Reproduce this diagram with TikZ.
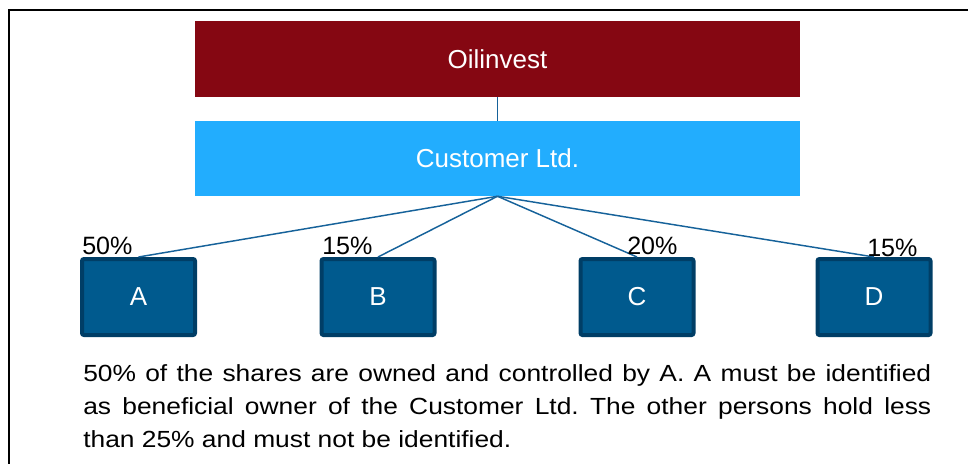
\documentclass[tikz,border=0pt]{standalone}
\usepackage{fontspec}
\setmainfont{Liberation Sans}
\newfontfamily\bodyfont[FakeStretch=1.13]{Liberation Sans}
\usetikzlibrary{backgrounds}
\definecolor{oilred}{HTML}{850712}
\definecolor{custblue}{HTML}{22ADFE}
\definecolor{leaffill}{HTML}{005A8E}
\definecolor{leafedge}{HTML}{003E66}
\definecolor{linkcol}{HTML}{16629A}
\frenchspacing
\begin{document}
\frenchspacing
\begin{tikzpicture}[x=0.75pt,y=-0.75pt,
 topbox/.style={rectangle, minimum width=453.75pt, inner sep=0pt, text=white, font=\fontsize{19.5}{23}\selectfont},
 leaf/.style={rectangle, draw=leafedge, line width=3pt, fill=leaffill, rounded corners=1.5pt, minimum width=84.75pt, minimum height=57pt, inner sep=0pt, text=white, font=\fontsize{19.5}{23}\selectfont},
 pct/.style={anchor=base west, inner sep=0pt, font=\fontsize{18.8}{22}\selectfont},
 link/.style={draw=linkcol, line width=1.1pt},
 bodyline/.style={anchor=base west, inner sep=0pt, font=\bodyfont\fontsize{17.5}{20}\selectfont\frenchspacing}]
\useasboundingbox (0,0) rectangle (968,464);
\draw[line width=1.5pt] (9,464) -- (9,10) -- (968,10);

\node[topbox, fill=oilred, minimum height=57pt] (oil) at (497.5,59) {Oilinvest};
\node[topbox, fill=custblue, minimum height=56.25pt] (cust) at (497.5,158.5) {Customer Ltd.};

\node[leaf] (A) at (138.5,297) {A};
\node[leaf] (B) at (378,297) {B};
\node[leaf] (C) at (637,297) {C};
\node[leaf] (D) at (874,297) {D};

\draw[link] (oil.south) -- (cust.north);
\foreach \n in {A,B,C,D}{\draw[link] (cust.south) -- (\n.north);}

\node[pct] (pA) at (82,254) {50\%};
\node[pct] (pB) at (322,254) {15\%};
\node[pct] (pC) at (627,254) {20\%};
\node[pct] (pD) at (867,256) {15\%};

\node[bodyline] (t1) at (83,381) {\makebox[636pt][s]{50\% of the shares are owned and controlled by A. A must be identified}};
\node[bodyline] (t2) at (83,414) {\makebox[636pt][s]{as beneficial owner of the Customer Ltd. The other persons hold less}};
\node[bodyline] (t3) at (83,447) {than 25\% and must not be identified.};
\end{tikzpicture}
\end{document}
